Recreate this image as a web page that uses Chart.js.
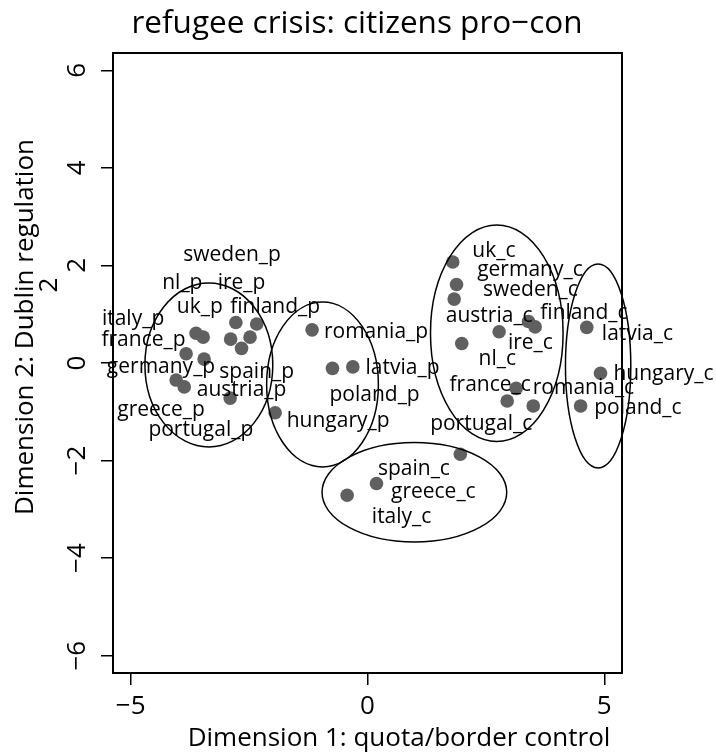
<!DOCTYPE html>
<html>
<head>
<meta charset="utf-8">
<script src="https://cdn.jsdelivr.net/npm/chart.js@4.4.1/dist/chart.umd.min.js"></script>
<style>
  html, body { margin: 0; padding: 0; background: #fff; }
  #chart { display: block; }
</style>
</head>
<body>
<canvas id="chart" width="716" height="753"></canvas>
<script>
// data (MDS coordinates)

const proLabels = ['italy_p', 'france_p', 'germany_p', 'greece_p', 'portugal_p', 'sweden_p', 'nl_p', 'ire_p',
    'uk_p', 'finland_p', 'spain_p', 'austria_p', 'romania_p', 'latvia_p', 'poland_p', 'hungary_p'];
const proX = [-3.62, -3.83, -4.04, -3.87, -2.90, -2.48, -2.89, -2.78, -3.47, -2.34, -2.66, -3.45, -1.17, -0.31, -0.74, -1.95];
const proY = [0.61, 0.19, -0.35, -0.49, -0.72, 0.53, 0.49, 0.83, 0.53, 0.80, 0.30, 0.08, 0.68, -0.08, -0.11, -1.02];
const proTextX = [-4.95, -4.73, -4.36, -4.36, -3.52, -2.86, -3.91, -2.66, -3.54, -1.95, -2.34, -2.66, 0.18, 0.74, 0.15, -0.62];
const proTextY = [0.90, 0.47, -0.09, -0.96, -1.37, 2.21, 1.63, 1.63, 1.14, 1.14, -0.18, -0.55, 0.63, -0.10, -0.66, -1.18];

const conLabels = ['uk_c', 'germany_c', 'sweden_c', 'austria_c', 'finland_c', 'ire_c', 'nl_c', 'france_c',
    'romania_c', 'portugal_c', 'latvia_c', 'hungary_c', 'poland_c', 'spain_c', 'greece_c', 'italy_c'];
const conX = [1.80, 1.88, 1.83, 2.78, 3.54, 3.40, 1.99, 3.14, 3.50, 2.95, 4.63, 4.92, 4.50, 1.96, 0.19, -0.43];
const conY = [2.07, 1.61, 1.31, 0.64, 0.74, 0.85, 0.40, -0.52, -0.88, -0.78, 0.73, -0.21, -0.88, -1.87, -2.47, -2.71];
const conTextX = [2.67, 3.43, 3.44, 2.57, 4.57, 3.44, 2.74, 2.59, 4.56, 2.40, 5.70, 6.25, 5.71, 0.98, 1.39, 0.72];
const conTextY = [2.30, 1.91, 1.50, 0.96, 1.03, 0.40, 0.08, -0.45, -0.52, -1.25, 0.60, -0.23, -0.93, -2.18, -2.64, -3.15];

// cluster ellipses: centre and half axes in data units
const ellCX = [-3.35, -0.95, 2.73, 4.87, 0.99];
const ellCY = [-0.04, -0.44, 0.61, -0.06, -2.65];
const ellRX = [1.35, 1.18, 1.40, 0.69, 1.95];
const ellRY = [1.68, 1.69, 2.22, 2.09, 1.02];

const xTicks = [-5, 0, 5];
const yTicks = [-6, -4, -2, 0, 2, 4, 6];

const FONT = '"Open Sans", "Noto Sans", sans-serif';
const minus = v => String(v).replace('-', '\u2212');

const points = proX.map((x, i) => ({ x: x, y: proY[i] }))
    .concat(conX.map((x, i) => ({ x: x, y: conY[i] })));

// labels, ellipses, box and titles
const extras = {
    id: 'extras',
    afterDatasetsDraw(chart) {
        const ctx = chart.ctx;
        const xs = chart.scales.x, ys = chart.scales.y;
        const area = chart.chartArea;

        ctx.save();
        ctx.fillStyle = '#000';
        ctx.font = '21px ' + FONT;
        ctx.textAlign = 'center';
        ctx.textBaseline = 'middle';
        const names = proLabels.concat(conLabels);
        const tx = proTextX.concat(conTextX);
        const ty = proTextY.concat(conTextY);
        names.forEach((n, i) => {
            ctx.fillText(n, xs.getPixelForValue(tx[i]), ys.getPixelForValue(ty[i]));
        });

        ctx.strokeStyle = '#000';
        ctx.lineWidth = 1.5;
        ellCX.forEach((cx, i) => {
            const px = xs.getPixelForValue(cx), py = ys.getPixelForValue(ellCY[i]);
            const rx = Math.abs(xs.getPixelForValue(cx + ellRX[i]) - px);
            const ry = Math.abs(ys.getPixelForValue(ellCY[i] + ellRY[i]) - py);
            ctx.beginPath();
            ctx.ellipse(px, py, rx, ry, 0, 0, Math.PI * 2);
            ctx.stroke();
        });

        // plot box
        ctx.lineWidth = 2;
        ctx.strokeRect(area.left, area.top, area.right - area.left, area.bottom - area.top);

        // y tick labels, rotated like base R
        ctx.font = '26px ' + FONT;
        ys.ticks.forEach(t => {
            ctx.save();
            ctx.translate(78, ys.getPixelForValue(t.value));
            ctx.rotate(-Math.PI / 2);
            ctx.fillText(minus(t.value), 0, 0);
            ctx.restore();
        });

        // titles
        ctx.font = '31.5px ' + FONT;
        ctx.textBaseline = 'alphabetic';
        ctx.fillText('refugee crisis: citizens pro\u2212con', 357, 33);

        ctx.font = '26px ' + FONT;
        ctx.fillText('Dimension 1: quota/border control', 399, 746);

        ctx.textBaseline = 'middle';
        ctx.save();
        ctx.translate(26, 327);
        ctx.rotate(-Math.PI / 2);
        ctx.fillText('Dimension 2: Dublin regulation', 0, 0);
        ctx.restore();
        ctx.save();
        ctx.translate(50, 285);
        ctx.rotate(-Math.PI / 2);
        ctx.fillText('2', 0, 0);
        ctx.restore();

        ctx.restore();
    }
};

function draw() {
    new Chart(document.querySelector('#chart').getContext('2d'), {
        type: 'scatter',
        data: {
            datasets: [
                {
                    data: points,
                    backgroundColor: '#606060',
                    borderWidth: 0,
                    pointRadius: 6.8,
                    pointHoverRadius: 6.8
                }
            ]
        },
        options: {
            responsive: false,
            animation: false,
            devicePixelRatio: 1,
            events: [],
            layout: { padding: { top: 53, right: 94, left: 0, bottom: 0 } },
            plugins: { legend: { display: false }, tooltip: { enabled: false } },
            scales: {
                x: {
                    type: 'linear',
                    min: -5.374,
                    max: 5.374,
                    afterBuildTicks: s => { s.ticks = xTicks.map(v => ({ value: v })); },
                    afterFit: s => { s.height = 80; },
                    border: { display: false },
                    grid: { drawOnChartArea: false, drawTicks: true, tickLength: 12, color: '#000', lineWidth: 1.5 },
                    ticks: {
                        color: '#000',
                        font: { family: FONT, size: 26 },
                        padding: 6,
                        minRotation: 0,
                        maxRotation: 0,
                        callback: v => minus(v)
                    }
                },
                y: {
                    type: 'linear',
                    min: -6.355,
                    max: 6.355,
                    afterBuildTicks: s => { s.ticks = yTicks.map(v => ({ value: v })); },
                    afterFit: s => { s.width = 113; },
                    border: { display: false },
                    grid: { drawOnChartArea: false, drawTicks: true, tickLength: 12, color: '#000', lineWidth: 1.5 },
                    ticks: { display: false }
                }
            }
        },
        plugins: [extras]
    });
}

if (document.fonts && document.fonts.load) {
    document.fonts.load('26px "Open Sans"').then(draw, draw);
} else {
    draw();
}
</script>
</body>
</html>
